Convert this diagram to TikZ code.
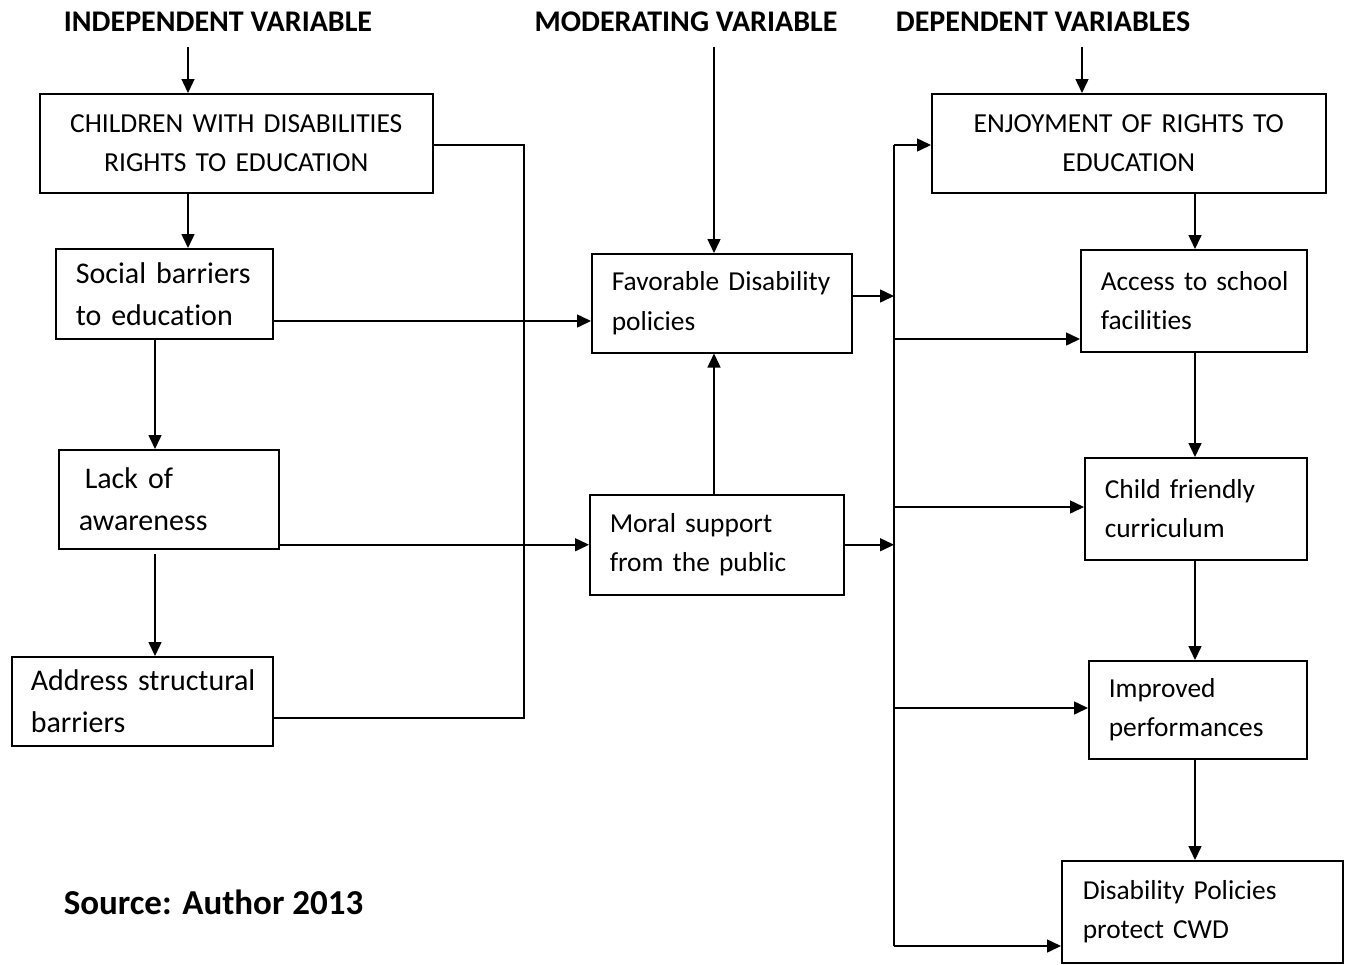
\documentclass[tikz,border=0pt]{standalone}
\usepackage{fontspec}
\setmainfont{Carlito}[Ligatures=NoCommon]
\usetikzlibrary{arrows.meta}
\newcommand\lftfont{\fontsize{30}{42}\selectfont}
\newcommand\midfont{\fontsize{27.4}{39.5}\selectfont}
\newcommand\capfont{\fontsize{27.5}{39}\selectfont}
\newcommand\hdrfont{\fontsize{30}{36}\selectfont\bfseries}
\newcommand\srcfont{\fontsize{35}{42}\selectfont\bfseries}
\begin{document}
\begin{tikzpicture}[x=1pt,y=-1pt, line width=1.5pt,
  box/.style={draw, rectangle, anchor=north west, inner ysep=0pt, align=left},
  arr/.style={-{Triangle[length=14pt,width=13pt]}},
  hdr/.style={font=\hdrfont, inner sep=0pt}]
\useasboundingbox (0,0) rectangle (1348,964);

% headers
\node[hdr] (hi) at (218,22) {INDEPENDENT VARIABLE};
\node[hdr] (hm) at (686,22) {MODERATING VARIABLE};
\node[hdr] (hd) at (1043,22) {DEPENDENT VARIABLES};

% independent column
\node[box, align=center, font=\capfont, minimum width=393pt, minimum height=99pt, text width=353pt, inner xsep=20pt] (b1) at (39,93) {\mbox{CHILDREN WITH DISABILITIES}\\\mbox{RIGHTS TO EDUCATION}};
\node[box, font=\lftfont, minimum width=217pt, minimum height=90pt, text width=177pt, inner xsep=20pt] (b2) at (55,248) {\mbox{Social barriers}\\\mbox{to education}};
\node[box, font=\lftfont, minimum width=220pt, minimum height=99pt, text width=180pt, inner xsep=20pt] (b3) at (58,449) {\hspace*{6pt}\mbox{Lack of}\\\mbox{awareness}};
\node[box, font=\lftfont, minimum width=261pt, minimum height=89pt, text width=223pt, inner xsep=19pt] (b4) at (11,656) {\mbox{Address structural}\\\mbox{barriers}};

% moderating column
\node[box, font=\midfont, minimum width=260pt, minimum height=99pt, text width=220pt, inner xsep=20pt] (m1) at (591,253) {\mbox{Favorable Disability}\\\mbox{policies}};
\node[box, font=\midfont, minimum width=254pt, minimum height=100pt, text width=214pt, inner xsep=20pt] (m2) at (589,494) {\mbox{Moral support}\\\mbox{from the public}};

% dependent column
\node[box, align=center, font=\capfont, minimum width=394pt, minimum height=99pt, text width=354pt, inner xsep=20pt] (d1) at (931,93) {\mbox{ENJOYMENT OF RIGHTS TO}\\\mbox{EDUCATION}};
\node[box, font=\midfont, minimum width=226pt, minimum height=102pt, text width=186pt, inner xsep=20pt] (d2) at (1080,249) {\mbox{Access to school}\\\mbox{facilities}};
\node[box, font=\midfont, minimum width=222pt, minimum height=102pt, text width=182pt, inner xsep=20pt] (d3) at (1084,457) {\mbox{Child friendly}\\\mbox{curriculum}};
\node[box, font=\midfont, minimum width=218pt, minimum height=98pt, text width=178pt, inner xsep=20pt] (d4) at (1088,660) {\mbox{Improved}\\\mbox{performances}};
\node[box, font=\midfont, minimum width=281pt, minimum height=102pt, text width=239pt, inner xsep=21pt] (d5) at (1061,860) {\mbox{Disability Policies}\\\mbox{protect CWD}};

\node[font=\srcfont, anchor=west, inner sep=0pt] (src) at (63,902) {Source: Author 2013};

% helper coordinates
\coordinate (i0) at (188,47);
\coordinate (x155) at (155,0);
\coordinate (m0) at (714,47);
\coordinate (d0) at (1082,47);
\coordinate (dx) at (1195,0);
\coordinate (bx) at (524,718);
\coordinate (r1) at (0,321);
\coordinate (r2) at (0,296);
\coordinate (bt) at (894,145);
\coordinate (bb) at (894,946);
\coordinate (y2) at (0,339);
\coordinate (y3) at (0,507);
\coordinate (y4) at (0,708);

% independent connectors
\draw[arr] (i0) -- (i0 |- b1.north);
\draw[arr] (b1.south -| i0) -- (b2.north -| i0);
\draw[arr] (b2.south -| x155) -- (b3.north -| x155);
\draw[arr] ([yshift=-4pt]b3.south -| x155) -- (b4.north -| x155);
\draw (b1.east |- bt) -| (bx) -- (bx -| b4.east);
\draw[arr] (b2.east |- r1) -- (m1.west |- r1);
\draw[arr] (b3.east |- m2.west) -- (m2.west);

% moderating connectors
\draw[arr] (m0) -- (m0 |- m1.north);
\draw[arr] (m2.north -| m0) -- (m1.south -| m0);
\draw[arr] (m1.east |- r2) -- (bt |- r2);
\draw[arr] (m2.east) -- (m2.east -| bt);

% bus and dependent connectors
\draw (bt) -- (bb);
\draw[arr] (bt) -- (bt -| d1.west);
\draw[arr] (bt |- y2) -- (d2.west |- y2);
\draw[arr] (bt |- y3) -- (d3.west |- y3);
\draw[arr] (bt |- y4) -- (d4.west |- y4);
\draw[arr] (bb) -- (bb -| d5.west);

\draw[arr] (d0) -- (d0 |- d1.north);
\draw[arr] (d1.south -| dx) -- (d2.north -| dx);
\draw[arr] (d2.south -| dx) -- (d3.north -| dx);
\draw[arr] (d3.south -| dx) -- (d4.north -| dx);
\draw[arr] (d4.south -| dx) -- (d5.north -| dx);
\end{tikzpicture}
\end{document}
